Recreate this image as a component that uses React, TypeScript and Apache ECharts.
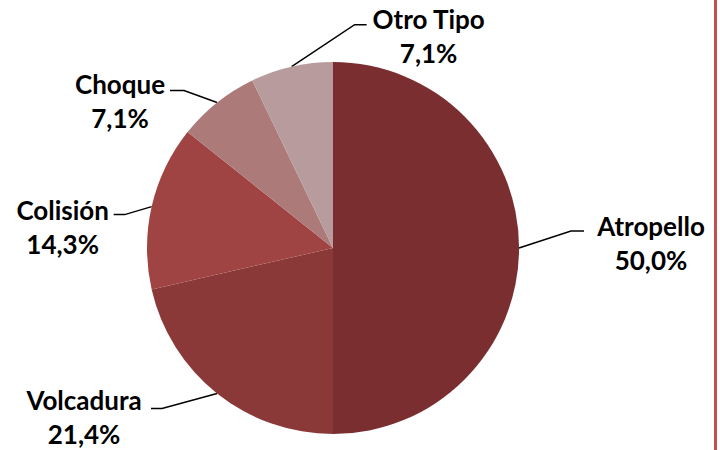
import React, { useEffect, useRef } from 'react';
import * as echarts from 'echarts';

const categories = ['Atropello', 'Volcadura', 'Colisión', 'Choque', 'Otro Tipo'];
const values = [7, 3, 2, 1, 1];
const sliceColors = ['#7A2E2F', '#8B3839', '#A04443', '#AD7A7A', '#B89C9D'];

// leader line / label offsets per slice: [elbowDx, elbowDy, endDx, textDx, textDy]
const leaderOffsets = [
  [52, -17, 13, 67, 11.5],
  [-55, 15, -11, -67, 9],
  [-27, 8, -11, -51, 12.5],
  [-33, -12, -14, -50, 10.5],
  [63, -42, 12, 62, 11.5],
];

const CX = 333;
const CY = 248;
const R = 186;

export default function App() {
  const ref = useRef<HTMLDivElement>(null);
  useEffect(() => {
    const chart = echarts.init(ref.current!, null, { renderer: 'svg' });
    const total = values.reduce((a, b) => a + b, 0);
    const midAngles: number[] = [];
    let acc = 0;
    values.forEach((v) => {
      const mid = ((acc + v / 2) / total) * Math.PI * 2;
      midAngles.push(mid);
      acc += v;
    });
    chart.setOption({
      animation: false,
      backgroundColor: '#ffffff',
      graphic: [
        {
          type: 'rect',
          shape: { x: 714, y: 0, width: 3, height: 450 },
          style: { fill: '#C0504D' },
        },
      ],
      series: [
        {
          type: 'pie',
          center: [CX, CY],
          radius: R,
          startAngle: 90,
          clockwise: true,
          avoidLabelOverlap: false,
          emphasis: { disabled: true },
          itemStyle: { borderWidth: 0 },
          data: categories.map((c, i) => ({
            name: c,
            value: values[i],
            itemStyle: { color: sliceColors[i] },
          })),
          label: {
            show: true,
            position: 'outside',
            formatter: (p: any) =>
              `${p.name}\n${((p.value / total) * 100).toFixed(1).replace('.', ',')}%`,
            fontFamily: 'Lato',
            fontWeight: 'bold',
            fontSize: 26,
            lineHeight: 34,
            color: '#000000',
          },
          labelLine: {
            show: true,
            length: 20,
            length2: 10,
            lineStyle: { color: '#000000', width: 1.5 },
          },
          labelLayout: (params: any) => {
            const i = params.dataIndex;
            const o = leaderOffsets[i];
            let ex: number;
            let ey: number;
            if (params.labelLinePoints && params.labelLinePoints[0]) {
              ex = params.labelLinePoints[0][0];
              ey = params.labelLinePoints[0][1];
            } else {
              const a = midAngles[i];
              ex = CX + R * Math.sin(a);
              ey = CY - R * Math.cos(a);
            }
            const bx = ex + o[0];
            const by = ey + o[1];
            const tx = bx + o[2];
            return {
              x: tx + o[3],
              y: by + o[4],
              align: 'center',
              verticalAlign: 'middle',
              labelLinePoints: [
                [ex, ey],
                [bx, by],
                [tx, by],
              ],
            };
          },
        },
      ],
    });
    return () => chart.dispose();
  }, []);
  return (
    <div
      ref={ref}
      style={{ position: 'fixed', left: 0, top: 0, width: 720, height: 450 }}
    />
  );
}
